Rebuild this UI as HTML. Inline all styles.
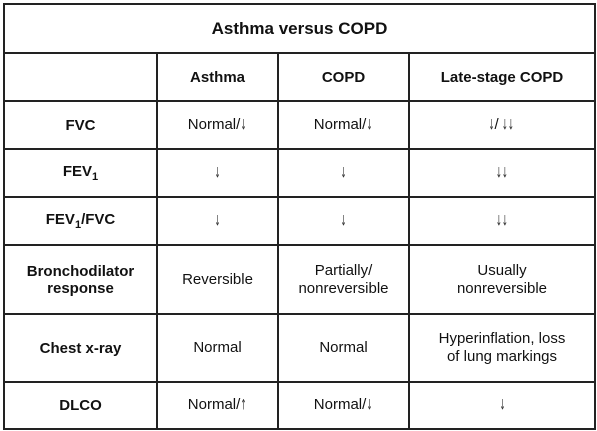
<!DOCTYPE html>
<html><head><meta charset="utf-8"><style>
body{margin:0;width:597px;height:431px;background:#fff;overflow:hidden}
table{position:absolute;left:3px;top:3px;border-collapse:collapse;font-family:"Liberation Sans",sans-serif;font-size:15px;color:#111;table-layout:fixed}
td{border:2px solid #222;text-align:center;vertical-align:middle;padding:0;line-height:18px}
th{border:2px solid #222;font-weight:bold;font-size:15px}
.a{display:inline-block;font-family:"DejaVu Sans",sans-serif;font-size:13px;color:#333;transform:scale(0.55,1.1);margin:0 -2px}
</style></head><body>
<table>
<colgroup><col style="width:153px"><col style="width:121px"><col style="width:131px"><col style="width:186px"></colgroup>
<tr style="height:49px"><th colspan="4" style="font-size:17px">Asthma versus COPD</th></tr>
<tr style="height:48px"><th></th><th>Asthma</th><th>COPD</th><th>Late-stage COPD</th></tr>
<tr style="height:48px"><th>FVC</th><td>Normal/<span class="a">↓</span></td><td>Normal/<span class="a">↓</span></td><td><span class="a">↓</span>/<span class="a">↓↓</span></td></tr>
<tr style="height:48px"><th>FEV<sub style="font-size:11px">1</sub></th><td><span class="a">↓</span></td><td><span class="a">↓</span></td><td><span class="a">↓↓</span></td></tr>
<tr style="height:48px"><th>FEV<sub style="font-size:11px">1</sub>/FVC</th><td><span class="a">↓</span></td><td><span class="a">↓</span></td><td><span class="a">↓↓</span></td></tr>
<tr style="height:69px"><th>Bronchodilator<br>response</th><td>Reversible</td><td>Partially/<br>nonreversible</td><td>Usually<br>nonreversible</td></tr>
<tr style="height:68px"><th>Chest x-ray</th><td>Normal</td><td>Normal</td><td>Hyperinflation, loss<br>of lung markings</td></tr>
<tr style="height:47px"><th>DLCO</th><td>Normal/<span class="a">↑</span></td><td>Normal/<span class="a">↓</span></td><td><span class="a">↓</span></td></tr>
</table>
</body></html>
